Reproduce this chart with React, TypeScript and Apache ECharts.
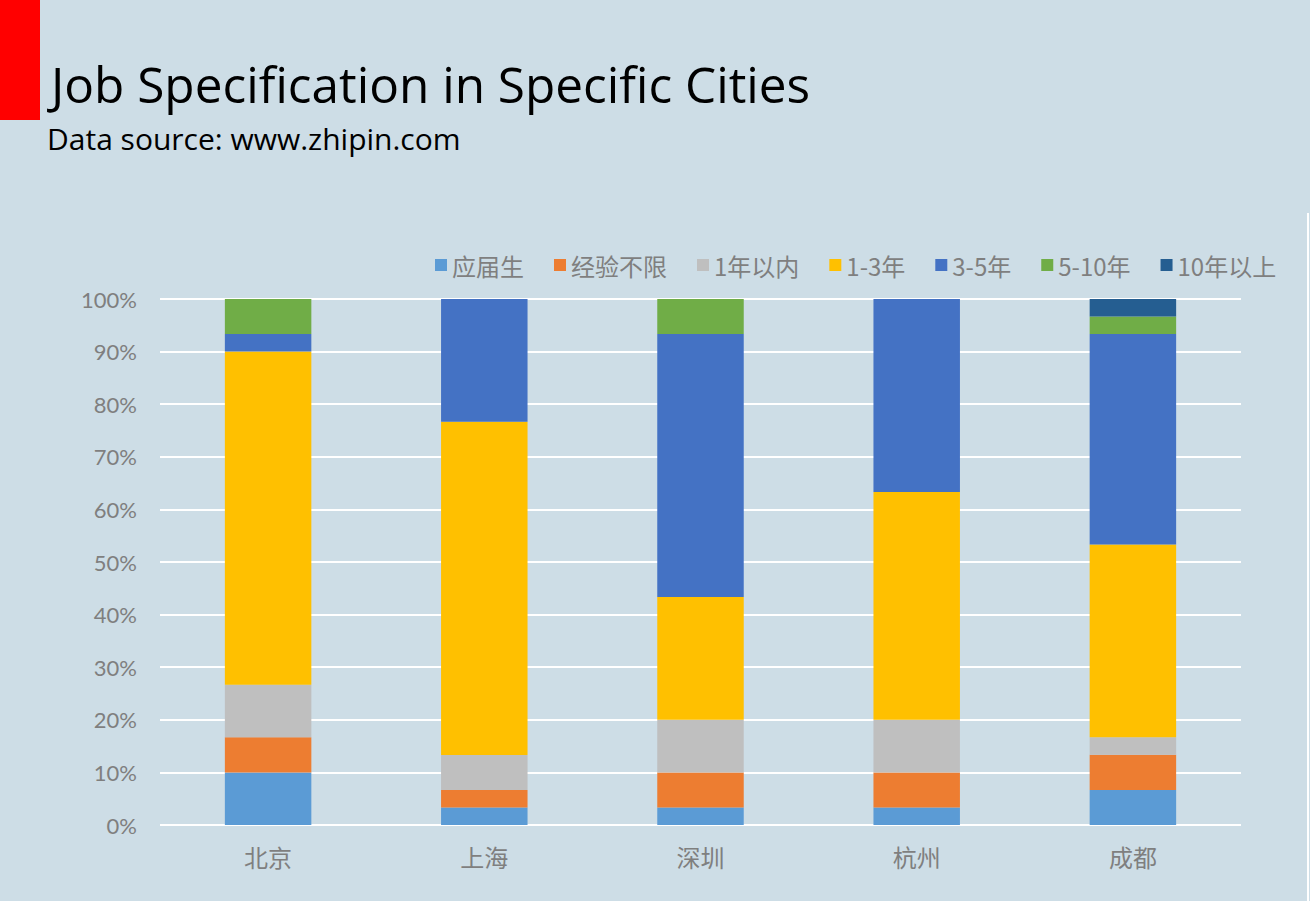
import React, { useEffect, useRef } from "react";
import * as echarts from "echarts";

const cities = ["北京", "上海", "深圳", "杭州", "成都"];
const seriesNames = ["应届生", "经验不限", "1年以内", "1-3年", "3-5年", "5-10年", "10年以上"];
const colors = ["#5b9bd5", "#ed7d31", "#bfbfbf", "#ffc000", "#4472c4", "#70ad47", "#255e91"];
// percentage share of each experience level per city
const fresh = [10.0, 3.33, 3.33, 3.33, 6.67];
const noLimit = [6.67, 3.33, 6.67, 6.67, 6.67];
const underOne = [10.0, 6.67, 10.0, 10.0, 3.33];
const oneToThree = [63.33, 63.33, 23.33, 43.33, 36.67];
const threeToFive = [3.33, 23.33, 50.0, 36.67, 40.0];
const fiveToTen = [6.67, 0, 6.67, 0, 3.33];
const overTen = [0, 0, 0, 0, 3.33];
const seriesValues = [fresh, noLimit, underOne, oneToThree, threeToFive, fiveToTen, overTen];
const yTicks = [0, 10, 20, 30, 40, 50, 60, 70, 80, 90, 100];

export default function App() {
  const ref = useRef<HTMLDivElement>(null);
  useEffect(() => {
    const chart = echarts.init(ref.current!, null, { renderer: "svg" });
    chart.setOption({
      animation: false,
      backgroundColor: "#cddde6",
      color: colors,
      graphic: [
        { type: "rect", left: 0, top: 0, shape: { width: 40, height: 120 }, style: { fill: "#ff0000" } },
        { type: "line", shape: { x1: 1308, y1: 213, x2: 1308, y2: 901 }, style: { stroke: "#ffffff", lineWidth: 2 } },
        {
          type: "text", left: 51, top: 59,
          style: { text: "Job Specification in Specific Cities", fill: "#000000", font: "49.5px 'Open Sans'" },
        },
        {
          type: "text", left: 47, top: 123,
          style: { text: "Data source: www.zhipin.com", fill: "#000000", font: "30px 'Open Sans'" },
        },
      ],
      legend: {
        left: 430, top: 248,
        itemWidth: 12, itemHeight: 12, itemGap: 30, icon: "rect",
        textStyle: { fontSize: 24, color: "#7f7f7f", fontFamily: "Noto Sans CJK SC" },
        data: seriesNames,
      },
      grid: { left: 160, right: 69, top: 299, bottom: 76 },
      xAxis: {
        type: "category", data: cities,
        axisLine: { show: false }, axisTick: { show: false },
        axisLabel: { fontSize: 24, color: "#7f7f7f", margin: 19, fontFamily: "Noto Sans CJK SC" },
      },
      yAxis: {
        type: "value", min: 0, max: 100, interval: 10,
        axisLine: { show: false }, axisTick: { show: false },
        splitLine: { lineStyle: { color: "#ffffff", width: 2 } },
        axisLabel: {
          fontSize: 22, color: "#7f7f7f", margin: 23, fontFamily: "Lato",
          formatter: (v: number) => (yTicks.includes(v) ? v + "%" : ""),
        },
      },
      series: seriesNames.map((name, i) => ({
        name, type: "bar", stack: "total", barWidth: "40%",
        data: seriesValues[i],
        itemStyle: { color: colors[i] },
      })),
    });
    return () => chart.dispose();
  }, []);
  return <div ref={ref} style={{ width: 1310, height: 901, position: "absolute", left: 0, top: 0 }} />;
}
